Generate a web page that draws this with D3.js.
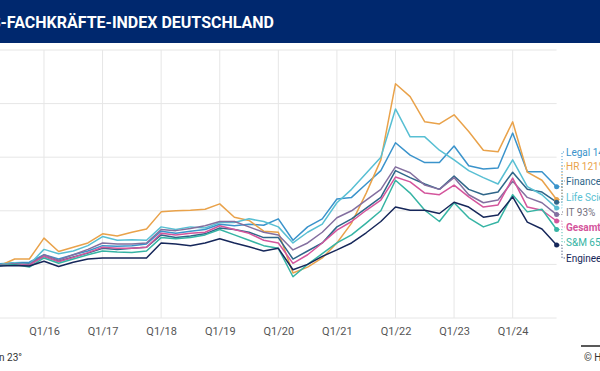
<!DOCTYPE html>
<html>
<head>
<meta charset="utf-8">
<script src="https://cdn.jsdelivr.net/npm/d3@7"></script>
<style>
  body { margin: 0; background: #fff; }
  svg { display: block; font-family: Roboto, "Noto Sans", sans-serif; }
</style>
</head>
<body>
<div id="chart"></div>
<script>
// quarters Q1/15 .. Q4/24
const quarters = [];
for (let yr = 15; yr <= 24; yr++) {
  for (let q = 1; q <= 4; q++) quarters.push(`Q${q}/${yr}`);
}
const tickLabels = ['Q1/16', 'Q1/17', 'Q1/18', 'Q1/19', 'Q1/20', 'Q1/21', 'Q1/22', 'Q1/23', 'Q1/24'];
const yTicks = [0, 100, 200, 300, 400, 500];

const names = ['Legal', 'HR', 'Finance', 'Life Sciences', 'IT', 'Gesamt', 'S&M', 'Engineering'];

const legal = [100, 101, 103, 104, 118, 110, 118, 125, 135, 134, 135, 138, 162, 158, 162, 165, 175, 172, 175, 173, 185, 145, 170, 185, 222, 225, 250, 275, 327, 304, 290, 290, 321, 284, 278, 280, 345, 273, 273, 245];
const hr = [100, 98, 110, 110, 149, 124, 132, 140, 157, 153, 160, 166, 198, 200, 201, 203, 213, 188, 182, 162, 160, 84, 95, 112, 140, 177, 233, 295, 437, 413, 366, 362, 379, 348, 313, 310, 366, 272, 257, 221];
const finance = [100, 99, 102, 101, 115, 106, 114, 121, 130, 128, 130, 132, 155, 150, 153, 157, 168, 165, 160, 150, 150, 110, 125, 140, 170, 185, 205, 225, 275, 262, 250, 240, 265, 240, 230, 235, 272, 240, 235, 216];
const lifeSci = [100, 100, 103, 100, 128, 120, 125, 135, 152, 145, 146, 145, 170, 165, 170, 168, 178, 178, 185, 180, 170, 140, 160, 175, 215, 240, 270, 300, 390, 338, 338, 313, 295, 275, 262, 250, 295, 245, 230, 205];
const it = [100, 99, 101, 100, 118, 108, 118, 128, 140, 138, 138, 140, 165, 163, 167, 172, 180, 180, 170, 160, 155, 127, 140, 160, 187, 200, 220, 240, 282, 271, 248, 240, 262, 230, 215, 220, 255, 225, 215, 193];
const gesamt = [100, 98, 100, 98, 115, 105, 113, 122, 132, 130, 130, 132, 158, 155, 158, 160, 172, 165, 158, 145, 140, 102, 118, 140, 164, 180, 201, 220, 263, 254, 233, 230, 248, 226, 207, 211, 261, 207, 201, 181];
const sm = [100, 98, 100, 95, 112, 102, 110, 118, 125, 123, 122, 125, 150, 148, 150, 155, 165, 155, 145, 135, 130, 77, 100, 120, 140, 155, 177, 200, 257, 233, 201, 180, 215, 187, 170, 179, 230, 198, 203, 165];
const engineering = [100, 97, 98, 97, 106, 96, 104, 110, 112, 112, 112, 112, 140, 138, 135, 140, 148, 140, 133, 125, 130, 90, 100, 115, 127, 140, 159, 180, 207, 201, 201, 195, 216, 207, 188, 192, 226, 179, 166, 136];

const colors = ['#3a93cb', '#e9a24a', '#2f6689', '#58bfd3', '#836f9f', '#d4559c', '#36b4a4', '#16275a'];
const labelColors = ['#3a93cb', '#e9a24a', '#2f6689', '#58bfd3', '#74707e', '#d4559c', '#36b4a4', '#16275a'];

const seriesValues = [legal, hr, finance, lifeSci, it, gesamt, sm, engineering];

const width = 600;
const height = 371;

const svg = d3.select('#chart').append('svg')
  .attr('width', width)
  .attr('height', height);

// header band
svg.append('rect')
  .attr('x', 0).attr('y', 0)
  .attr('width', width).attr('height', 43)
  .attr('fill', '#00286e');

svg.append('text')
  .attr('x', 274)
  .attr('y', 28)
  .attr('text-anchor', 'end')
  .attr('fill', '#fff')
  .attr('font-size', 16)
  .attr('font-weight', 700)
  .text('HAYS-FACHKRÄFTE-INDEX DEUTSCHLAND');

const xScale = d3.scalePoint()
  .domain(quarters)
  .range([-14.6, 556.6]);

const yScale = d3.scaleLinear()
  .domain([0, 500])
  .range([318, 50]);

const g = svg.append('g');

// grid
g.append('g')
  .selectAll('line')
  .data(yTicks)
  .enter().append('line')
  .attr('x1', 0)
  .attr('x2', xScale('Q4/24'))
  .attr('y1', d => yScale(d))
  .attr('y2', d => yScale(d))
  .attr('stroke', '#e6e6e6')
  .attr('stroke-width', 1);

g.append('g')
  .selectAll('line')
  .data(tickLabels)
  .enter().append('line')
  .attr('x1', d => xScale(d))
  .attr('x2', d => xScale(d))
  .attr('y1', yScale(500))
  .attr('y2', yScale(0))
  .attr('stroke', '#e6e6e6')
  .attr('stroke-width', 1);

// x axis labels
const xAxis = d3.axisBottom(xScale)
  .tickValues(tickLabels)
  .tickSize(0)
  .tickPadding(9);

const ax = g.append('g')
  .attr('transform', `translate(0,${yScale(0)})`)
  .call(xAxis);
ax.select('.domain').remove();
ax.selectAll('text')
  .attr('font-size', 11)
  .attr('font-family', 'Roboto, sans-serif')
  .attr('fill', '#555');

// lines
const line = d3.line()
  .x((d, i) => xScale(quarters[i]))
  .y(d => yScale(d));

g.append('g')
  .selectAll('path')
  .data(seriesValues)
  .enter().append('path')
  .attr('d', d => line(d))
  .attr('fill', 'none')
  .attr('stroke', (d, i) => colors[i])
  .attr('stroke-width', 1.5)
  .attr('stroke-linejoin', 'round');

// end dots, leaders and labels
const lastX = xScale('Q4/24');
const labelY = [152, 166, 181, 197, 212, 227, 242, 258];

seriesValues.forEach((vals, i) => {
  const last = vals[vals.length - 1];
  const yDot = yScale(last);
  g.append('path')
    .attr('d', `M${lastX + 2},${yDot}H562V${labelY[i]}H565`)
    .attr('fill', 'none')
    .attr('stroke', labelColors[i])
    .attr('stroke-width', 1)
    .attr('stroke-dasharray', '1,2');
  g.append('circle')
    .attr('cx', lastX)
    .attr('cy', yDot)
    .attr('r', 2.5)
    .attr('fill', colors[i]);
  g.append('text')
    .attr('x', 566)
    .attr('y', labelY[i] + 4)
    .attr('font-size', 10)
    .attr('font-weight', names[i] === 'Gesamt' ? 700 : 400)
    .attr('fill', labelColors[i])
    .text(`${names[i]} ${last - 100}%`);
});

// footer
svg.append('text')
  .attr('x', 22)
  .attr('y', 361)
  .attr('text-anchor', 'end')
  .attr('font-size', 10)
  .attr('fill', '#333')
  .text('Quelle: Hays, Stellenanzeigen-Auswertung, Index Q1/15 = 100, Stand: Quartal 4/24, Basis: Jan 23°');

svg.append('line')
  .attr('x1', 581).attr('x2', 600)
  .attr('y1', 346).attr('y2', 346)
  .attr('stroke', '#222')
  .attr('stroke-width', 1.5);

svg.append('text')
  .attr('x', 584)
  .attr('y', 361)
  .attr('font-size', 10)
  .attr('fill', '#333')
  .text('© Hays 2025');
</script>
</body>
</html>
